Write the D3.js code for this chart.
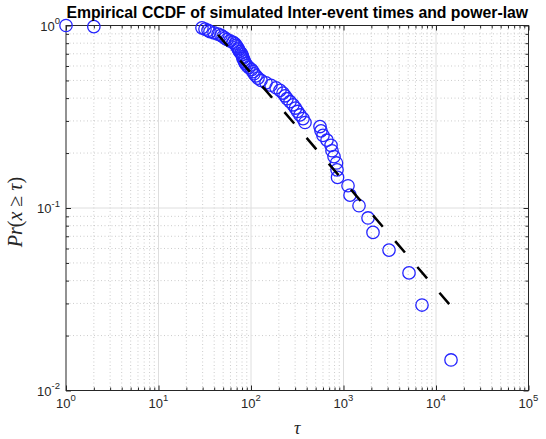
<!DOCTYPE html>
<html>
<head>
<meta charset="utf-8">
<script src="https://cdn.jsdelivr.net/npm/d3@7"></script>
<style>
  body { margin: 0; background: #fff; }
  svg { display: block; }
</style>
</head>
<body>
<script>
// Sorted inter-event times (tau) and their empirical CCDF Pr(x >= tau)
const tau = [
  1, 2,
  29.5, 31.8, 34.3, 36.0, 39.8, 44.0, 47.4, 49.8, 52.4, 55.0,
  59.3, 63.9, 67.1, 68.8, 70.6, 72.3, 73.3, 75.1, 78.0, 79.9,
  80.9, 81.9, 84.0, 85.1, 87.2, 90.5, 95.1, 101.3, 105.1, 107.8,
  113.3, 119.0, 128.3, 145.3, 164.5, 186.4, 205.8, 221.8, 233.2, 245.0,
  264.0, 284.6, 302.7, 318.2, 338.6, 364.9, 383.6,
  557, 571, 600, 663, 733, 751, 790, 840, 851, 862,
  1119, 1176, 1471, 1841, 2084, 3104, 5107, 7057, 14530
];
const prob = [
  1.0000, 0.9853, 0.9706, 0.9559, 0.9412, 0.9265, 0.9118, 0.8971, 0.8824, 0.8676,
  0.8529, 0.8382, 0.8235, 0.8088, 0.7941, 0.7794, 0.7647, 0.7500, 0.7353, 0.7206,
  0.7059, 0.6912, 0.6765, 0.6618, 0.6471, 0.6324, 0.6176, 0.6029, 0.5882, 0.5735,
  0.5588, 0.5441, 0.5294, 0.5147, 0.5000, 0.4853, 0.4706, 0.4559, 0.4412, 0.4265,
  0.4118, 0.3971, 0.3824, 0.3676, 0.3529, 0.3382, 0.3235, 0.3088, 0.2941, 0.2794,
  0.2647, 0.2500, 0.2353, 0.2206, 0.2059, 0.1912, 0.1765, 0.1618, 0.1471, 0.1324,
  0.1176, 0.1029, 0.0882, 0.0735, 0.0588, 0.0441, 0.0294, 0.0147
];

// Fitted power-law: end points of the straight line in log-log space
const fitTau = [44, 14500];
const fitProb = [0.89, 0.029];

// Decade tick exponents
const xTickPowers = [0, 1, 2, 3, 4, 5];
const yTickPowers = [-2, -1, 0];

const titleText = "Empirical CCDF of simulated Inter-event times and power-law";

const W = 546, H = 439;
const m = { left: 66, top: 25.5, right: 17.5, bottom: 48.5 };
const axisColor = "#262626";

const svg = d3.select("body").append("svg")
  .attr("width", W).attr("height", H)
  .style("font-family", "'Liberation Sans', Arial, sans-serif");

const x = d3.scaleLog().domain([1, 1e5]).range([m.left, W - m.right]);
const y = d3.scaleLog().domain([0.01, 1]).range([H - m.bottom, m.top]);

const majorX = xTickPowers.map(p => Math.pow(10, p));
const majorY = yTickPowers.map(p => Math.pow(10, p));
const minorX = [];
for (let p = xTickPowers[0]; p < xTickPowers[xTickPowers.length - 1]; p++)
  for (let k = 2; k <= 9; k++) minorX.push(k * Math.pow(10, p));
const minorY = [];
for (let p = yTickPowers[0]; p < yTickPowers[yTickPowers.length - 1]; p++)
  for (let k = 2; k <= 9; k++) minorY.push(k * Math.pow(10, p));

const x0 = m.left, x1 = W - m.right, y0 = m.top, y1 = H - m.bottom;

// Grid: dotted minor lines, light solid major lines
const grid = svg.append("g");
grid.selectAll(".gmx").data(minorX).join("line")
  .attr("x1", d => x(d)).attr("x2", d => x(d)).attr("y1", y0).attr("y2", y1)
  .attr("stroke", "#bfbfbf").attr("stroke-width", 0.8).attr("stroke-dasharray", "1,2.5");
grid.selectAll(".gmy").data(minorY).join("line")
  .attr("y1", d => y(d)).attr("y2", d => y(d)).attr("x1", x0).attr("x2", x1)
  .attr("stroke", "#bfbfbf").attr("stroke-width", 0.8).attr("stroke-dasharray", "1,2.5");
grid.selectAll(".gMx").data(majorX.slice(1, -1)).join("line")
  .attr("x1", d => x(d)).attr("x2", d => x(d)).attr("y1", y0).attr("y2", y1)
  .attr("stroke", "#dedede").attr("stroke-width", 1);
grid.selectAll(".gMy").data(majorY.slice(1, -1)).join("line")
  .attr("y1", d => y(d)).attr("y2", d => y(d)).attr("x1", x0).attr("x2", x1)
  .attr("stroke", "#dedede").attr("stroke-width", 1);

// Inward ticks on all four sides
function ticks(gen, vals, size, tx, ty) {
  const g = svg.append("g").attr("transform", `translate(${tx},${ty})`)
    .call(gen.tickValues(vals).tickSizeInner(-size).tickSizeOuter(0).tickFormat(""));
  g.select(".domain").remove();
  g.selectAll("line").attr("stroke", axisColor);
  return g;
}
ticks(d3.axisBottom(x), majorX, 5, 0, y1);
ticks(d3.axisBottom(x), minorX, 3, 0, y1);
ticks(d3.axisTop(x), majorX, 5, 0, y0);
ticks(d3.axisTop(x), minorX, 3, 0, y0);
ticks(d3.axisLeft(y), majorY, 5, x0, 0);
ticks(d3.axisLeft(y), minorY, 3, x0, 0);
ticks(d3.axisRight(y), majorY, 5, x1, 0);
ticks(d3.axisRight(y), minorY, 3, x1, 0);

// Axes box
svg.append("rect")
  .attr("x", x0).attr("y", y0).attr("width", x1 - x0).attr("height", y1 - y0)
  .attr("fill", "none").attr("stroke", axisColor).attr("stroke-width", 1);

// Tick labels as 10^n
svg.append("g").selectAll("text").data(xTickPowers).join("text")
  .attr("x", p => x(Math.pow(10, p))).attr("y", y1 + 17)
  .attr("text-anchor", "middle").attr("fill", axisColor).attr("font-size", 13)
  .each(function (p) {
    const t = d3.select(this);
    t.append("tspan").text("10");
    t.append("tspan").attr("dy", -6.5).attr("font-size", 9.5).text(p);
  });
svg.append("g").selectAll("text").data(yTickPowers).join("text")
  .attr("x", x0 - 6).attr("y", p => y(Math.pow(10, p)) + 5)
  .attr("text-anchor", "end").attr("fill", axisColor).attr("font-size", 13)
  .each(function (p) {
    const t = d3.select(this);
    t.append("tspan").text("10");
    t.append("tspan").attr("dy", -6.5).attr("font-size", 9.5).text(p);
  });

// Empirical CCDF markers
svg.append("g").selectAll("circle").data(tau).join("circle")
  .attr("cx", (d, i) => x(d)).attr("cy", (d, i) => y(prob[i]))
  .attr("r", 6.2)
  .attr("fill", "none").attr("stroke", "#2424ff").attr("stroke-width", 1.3);

// Power-law fit
svg.append("path")
  .datum(fitTau.map((t, i) => [t, fitProb[i]]))
  .attr("d", d3.line().x(d => x(d[0])).y(d => y(d[1])))
  .attr("fill", "none").attr("stroke", "#000").attr("stroke-width", 2.5)
  .attr("stroke-dasharray", "15,19");

// Title
svg.append("text")
  .attr("x", (x0 + x1) / 2).attr("y", 18)
  .attr("text-anchor", "middle").attr("font-weight", "bold").attr("font-size", 15.8)
  .attr("fill", "#000").text(titleText);

// Axis labels
svg.append("text")
  .attr("x", (x0 + x1) / 2).attr("y", 434)
  .attr("text-anchor", "middle")
  .attr("font-family", "'Liberation Serif', 'Times New Roman', serif")
  .attr("font-style", "italic").attr("font-size", 18).attr("fill", axisColor)
  .text("τ");

const yl = svg.append("text")
  .attr("transform", "translate(22,212) rotate(-90)")
  .attr("text-anchor", "middle")
  .attr("font-family", "'Liberation Serif', 'Times New Roman', serif")
  .attr("font-size", 20).attr("fill", axisColor);
yl.append("tspan").attr("font-style", "italic").text("Pr");
yl.append("tspan").text("(");
yl.append("tspan").attr("font-style", "italic").text("x");
yl.append("tspan").text(" ≥ ");
yl.append("tspan").attr("font-style", "italic").text("τ");
yl.append("tspan").text(")");
</script>
</body>
</html>
